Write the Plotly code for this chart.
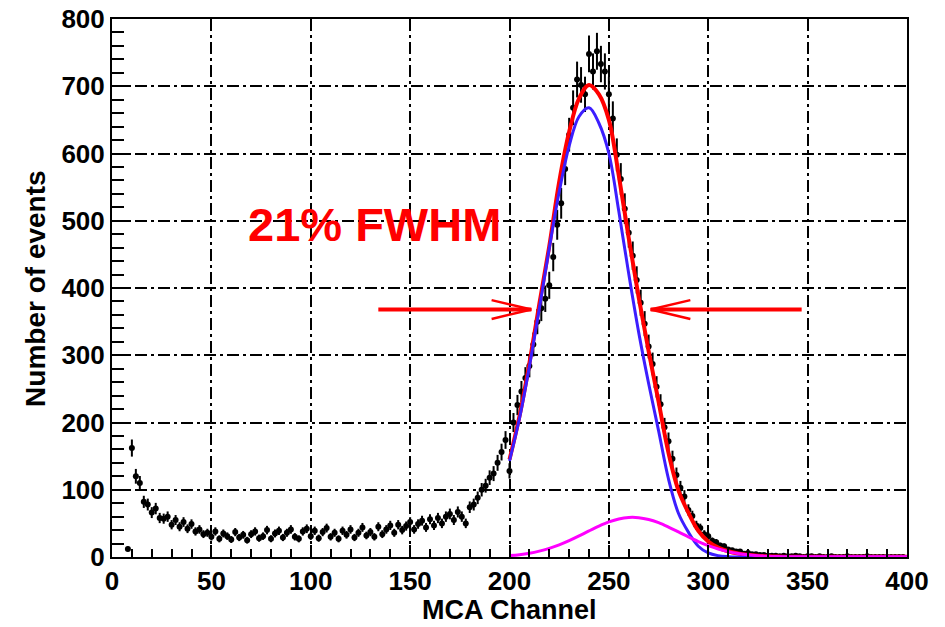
import plotly.graph_objects as go
import numpy as np

# ---------------- data ----------------
channels = list(range(8, 400, 2))
counts = [
    12, 162, 120, 110, 82, 78, 66, 72, 58, 57,
    60, 48, 55, 45, 52, 42, 49, 38, 41, 34,
    36, 30, 38, 27, 35, 31, 26, 37, 29, 33,
    25, 34, 38, 28, 31, 40, 27, 35, 39, 29,
    36, 41, 30, 27, 38, 42, 31, 39, 28, 37,
    43, 30, 36, 27, 39, 33, 41, 29, 36, 44,
    32, 37, 30, 45, 34, 41, 47, 36, 48, 40,
    46, 52, 41, 49, 54, 44, 56, 47, 58, 50,
    60, 64, 55, 67, 60, 50, 74, 78, 88, 100,
    106, 118, 124, 140, 156, 174, 128, 200, 226, 246,
    266, 284, 316, 350, 370, 384, 404, 446, 494, 526,
    577, 628, 668, 710, 702, 688, 748, 722, 752, 733,
    722, 688, 652, 598, 562, 518, 482, 448, 412, 378,
    347, 313, 287, 253, 227, 193, 172, 146, 122, 103,
    90, 70, 61, 47, 43, 34, 31, 24, 22, 17,
    16, 11, 10, 8, 8, 5, 6, 4, 4, 3,
    3, 2, 2, 2, 1, 2, 1, 1, 2, 1,
    0, 1, 1, 0, 1, 0, 0, 1, 0, 0,
    0, 1, 0, 0, 0, 0, 1, 0, 0, 0,
    0, 0, 0, 0, 0, 0,
]

fit_x = list(range(200, 405, 5))
fit_total = [145, 209, 288, 376, 462, 558, 632, 682, 702, 688,
             650, 567, 474, 386, 306, 231, 155, 99, 66, 39,
             23, 14, 8.5, 5.2, 3.2, 1.9, 1.1, 0.6, 0.3, 0.2,
             0.2, 0.2, 0.2, 0.2, 0.2, 0.2, 0.2, 0.2, 0.2, 0.2, 0.2]
fit_main = [143, 206, 283, 369, 459, 543, 611, 655, 668, 645,
            600, 514, 421, 334, 258, 188, 116, 65, 37, 16,
            6, 2, 0.5, 0, 0, 0, 0, 0, 0, 0,
            0, 0, 0, 0, 0, 0, 0, 0, 0, 0, 0]
fit_second = [2.1, 3.5, 5.6, 8.7, 12.8, 18, 24.3, 31.3, 38.8, 45.9,
              52.1, 56.6, 58.8, 58.5, 55.8, 51, 44.5, 37.3, 29.9, 22.9,
              16.8, 11.8, 8, 5.2, 3.2, 1.9, 1.1, 0.6, 0.3, 0.2,
              0.2, 0.2, 0.2, 0.2, 0.2, 0.2, 0.2, 0.2, 0.2, 0.2, 0.2]

label_text = "21% FWHM"
label_pos = (132, 495)
arrow_y = 368
left_arrow = (134, 211)    # tail, tip
right_arrow = (347, 271)   # tail, tip
head_len = 20
head_half = 14

x_ticks = [0, 50, 100, 150, 200, 250, 300, 350, 400]
y_ticks = [0, 100, 200, 300, 400, 500, 600, 700, 800]
x_title = "MCA Channel"
y_title = "Number of events"

# ---------------- figure ----------------
fig = go.Figure()
err = [float(np.sqrt(c)) for c in counts]
fig.add_trace(go.Scatter(
    x=channels, y=counts, mode="markers",
    marker=dict(color="black", size=6),
    error_y=dict(type="data", array=err, color="black", thickness=2, width=0),
    error_x=dict(type="constant", value=1, color="black", thickness=3, width=0),
    showlegend=False, hoverinfo="x+y"))

fig.add_trace(go.Scatter(x=fit_x, y=fit_total, mode="lines", line=dict(color="#ff0000", width=4, shape="spline"), showlegend=False))
fig.add_trace(go.Scatter(x=fit_x, y=fit_main, mode="lines", line=dict(color="rgb(60,30,255)", width=3, shape="spline"), showlegend=False))
fig.add_trace(go.Scatter(x=fit_x, y=fit_second, mode="lines", line=dict(color="#ff00ff", width=3, shape="spline"), showlegend=False))

font_family = "Liberation Sans, Arial, sans-serif"

fig.add_annotation(x=label_pos[0], y=label_pos[1], xref="x", yref="y", text=label_text,
                   showarrow=False, font=dict(family=font_family, size=47, color="#ff0000", weight="bold"),
                   xanchor="center", yanchor="middle")
fig.add_annotation(x=0.5, y=-0.099, xref="paper", yref="paper", text=x_title, showarrow=False,
                   font=dict(family=font_family, size=27, color="black", weight="bold"),
                   xanchor="center", yanchor="middle")
fig.add_annotation(x=-0.097, y=0.5, xref="paper", yref="paper", text=y_title, showarrow=False, textangle=-90,
                   font=dict(family=font_family, size=28, color="black", weight="bold"),
                   xanchor="center", yanchor="middle")

shapes = []
for tail, tip in (left_arrow, right_arrow):
    d = 1 if tip > tail else -1
    shapes.append(dict(type="line", xref="x", yref="y", x0=tail, y0=arrow_y, x1=tip, y1=arrow_y,
                       line=dict(color="#ff0000", width=4)))
    for s in (1, -1):
        shapes.append(dict(type="line", xref="x", yref="y", x0=tip, y0=arrow_y,
                           x1=tip - d * head_len, y1=arrow_y + s * head_half,
                           line=dict(color="#ff0000", width=2.5)))
fig.update_layout(shapes=shapes)

grid_dash = "12px,4px,3px,4px"
axis_common = dict(
    automargin=False, ticklabeloverflow="allow",
    showline=True, linecolor="black", linewidth=2, mirror=True,
    showgrid=True, gridcolor="black", gridwidth=1.5, griddash=grid_dash,
    zeroline=False, ticks="inside", tickcolor="black", tickwidth=1.5,
    tickfont=dict(family=font_family, size=26, color="black", weight="bold"),
)

fig.update_xaxes(range=[0, 400], tickvals=x_ticks, ticklen=12,
                 minor=dict(dtick=10, ticks="inside", ticklen=8, tickcolor="black", tickwidth=1.5, showgrid=False),
                 **axis_common)
fig.update_yaxes(range=[0, 800], tickvals=y_ticks, ticklen=18,
                 minor=dict(dtick=20, ticks="inside", ticklen=12, tickcolor="black", tickwidth=1.5, showgrid=False),
                 **axis_common)

# the page adds an 8 px body margin, so the margins are reduced by that amount
fig.update_layout(
    width=945, height=627,
    margin=dict(l=104, r=46, t=11, b=78),
    plot_bgcolor="white", paper_bgcolor="white",
    showlegend=False,
)

fig.write_html("out.html")
